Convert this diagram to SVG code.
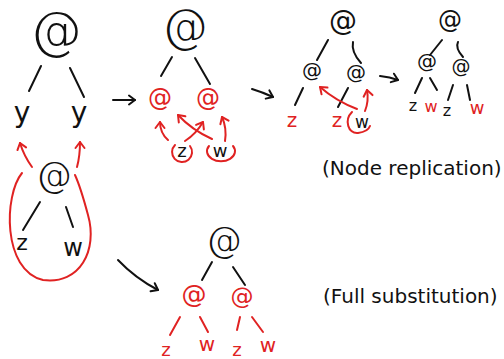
<svg xmlns="http://www.w3.org/2000/svg" width="504" height="359" viewBox="0 0 504 359">
  <defs>
    <style>
      .k { fill: none; stroke: #111; stroke-width: 2; stroke-linecap: round; stroke-linejoin: round; }
      .r { fill: none; stroke: #e02222; stroke-width: 2; stroke-linecap: round; stroke-linejoin: round; }
      .t { font-family: "DejaVu Sans", "Liberation Sans", sans-serif; text-anchor: middle; }
      .big { font-weight: 200; }
      .tk { fill: #111; }
      .tr { fill: #e02222; }
      .cap { font-family: "DejaVu Sans", "Liberation Sans", sans-serif; font-size: 20px; fill: #111; }
    </style>
    <marker id="headK" viewBox="-8 -6 10 12" markerWidth="10" markerHeight="12" refX="0" refY="0" orient="auto" markerUnits="userSpaceOnUse">
      <path d="M-6,-4.5 L0,0 L-6,4.5" fill="none" stroke="#111" stroke-width="2" stroke-linecap="round" stroke-linejoin="round"/>
    </marker>
    <marker id="headR" viewBox="-8 -6 10 12" markerWidth="10" markerHeight="12" refX="0" refY="0" orient="auto" markerUnits="userSpaceOnUse">
      <path d="M-6,-4.5 L0,0 L-6,4.5" fill="none" stroke="#e02222" stroke-width="2" stroke-linecap="round" stroke-linejoin="round"/>
    </marker>
  </defs>

  <!-- tree edges and rewrite arrows -->
  <g id="connectors">
    <!-- left: app of y y -->
    <path class="k" d="M41,66 L29,91"/>
    <path class="k" d="M70,68 L84,97"/>
    <!-- left: app of z w -->
    <path class="k" d="M40,202 L23,230"/>
    <path class="k" d="M66,207 L73,227"/>
    <!-- substitution of the argument into both y -->
    <path class="r" d="M32,167 Q24,156 20,143" marker-end="url(#headR)"/>
    <path class="r" d="M77,167 Q80,156 80,142" marker-end="url(#headR)"/>
    <path class="r" d="M22,173 C4,195 2,270 43,280 C80,285 98,250 88,215 C84,200 80,186 75,175"/>

    <!-- step arrows -->
    <path class="k" d="M113,100 L135,100" marker-end="url(#headK)"/>
    <path class="k" d="M252,89 Q262,92 273,97" marker-end="url(#headK)"/>
    <path class="k" d="M380,76 Q390,77 398,80" marker-end="url(#headK)"/>
    <path class="k" d="M118,260 Q135,278 158,290" marker-end="url(#headK)"/>

    <!-- middle tree -->
    <path class="k" d="M172,57 L161,76"/>
    <path class="k" d="M195,58 L210,84"/>
    <path class="r" d="M175,145 A10,10 0 1 0 190,146"/>
    <path class="r" d="M209,146 A14,10 0 1 0 233,146"/>
    <path class="r" d="M168,140 Q160,133 160,122" marker-end="url(#headR)"/>
    <path class="r" d="M185,141 Q196,134 203,122" marker-end="url(#headR)"/>
    <path class="r" d="M212,139 Q192,130 178,115" marker-end="url(#headR)"/>
    <path class="r" d="M225,141 Q227,128 222,117" marker-end="url(#headR)"/>

    <!-- third tree -->
    <path class="k" d="M328,40 L317,60"/>
    <path class="k" d="M353,42 Q351,52 361,63"/>
    <path class="k" d="M303,88 L295,105"/>
    <path class="k" d="M348,88 L338,107"/>
    <path class="r" d="M352,112 C344,120 348,134 358,133 C365,132 369,129 370,126"/>
    <path class="r" d="M357,109 Q336,101 320,87" marker-end="url(#headR)"/>
    <path class="r" d="M365,111 Q369,101 367,90" marker-end="url(#headR)"/>

    <!-- fourth tree -->
    <path class="k" d="M442,40 L430,55"/>
    <path class="k" d="M458,42 Q455,48 463,57"/>
    <path class="k" d="M422,78 L415,93"/>
    <path class="k" d="M430,78 L437,90"/>
    <path class="k" d="M453,85 L448,100"/>
    <path class="k" d="M467,85 L470,100"/>

    <!-- bottom tree -->
    <path class="k" d="M212,262 L202,280"/>
    <path class="k" d="M233,267 L245,285"/>
    <path class="r" d="M180,317 L170,335"/>
    <path class="r" d="M200,317 L208,332"/>
    <path class="r" d="M240,317 L237,330"/>
    <path class="r" d="M252,317 L263,332"/>
  </g>

  <!-- left tree -->
  <g id="app-top-left"><text class="t big tk" x="56" y="48" font-size="52">@</text></g>
  <g id="var-y-left"><text class="t tk" x="22" y="122" font-size="28">y</text></g>
  <g id="var-y-right"><text class="t tk" x="79" y="122" font-size="28">y</text></g>
  <g id="app-arg"><text class="t big tk" x="54" y="187" font-size="36">@</text></g>
  <g id="arg-z"><text class="t tk" x="22" y="250" font-size="22">z</text></g>
  <g id="arg-w"><text class="t tk" x="73" y="256" font-size="24">w</text></g>

  <!-- middle tree -->
  <g id="mid-root"><text class="t big tk" x="185" y="42" font-size="46">@</text></g>
  <g id="mid-app-left"><text class="t tr" x="160" y="106" font-size="24">@</text></g>
  <g id="mid-app-right"><text class="t tr" x="208" y="106" font-size="24">@</text></g>
  <g id="mid-z"><text class="t tk" x="182" y="157" font-size="18">z</text></g>
  <g id="mid-w"><text class="t tk" x="220" y="157" font-size="18">w</text></g>

  <!-- third tree -->
  <g id="third-root"><text class="t tk" x="343" y="30" font-size="28">@</text></g>
  <g id="third-app-left"><text class="t tk" x="312" y="77" font-size="20">@</text></g>
  <g id="third-app-right"><text class="t tk" x="356" y="79" font-size="20">@</text></g>
  <g id="third-z-left"><text class="t tr" x="292" y="127" font-size="20">z</text></g>
  <g id="third-z-right"><text class="t tr" x="337" y="127" font-size="20">z</text></g>
  <g id="third-w"><text class="t tk" x="362" y="128" font-size="17">w</text></g>

  <!-- fourth tree -->
  <g id="fourth-root"><text class="t tk" x="450" y="28" font-size="24">@</text></g>
  <g id="fourth-app-left"><text class="t tk" x="427" y="68" font-size="20">@</text></g>
  <g id="fourth-app-right"><text class="t tk" x="461" y="73" font-size="19">@</text></g>
  <g id="fourth-z-left"><text class="t tk" x="413" y="111" font-size="16">z</text></g>
  <g id="fourth-w-left"><text class="t tr" x="431" y="112" font-size="16">w</text></g>
  <g id="fourth-z-right"><text class="t tk" x="447" y="116" font-size="16">z</text></g>
  <g id="fourth-w-right"><text class="t tr" x="477" y="114" font-size="18">w</text></g>

  <!-- bottom tree -->
  <g id="full-root"><text class="t big tk" x="224" y="252" font-size="36">@</text></g>
  <g id="full-app-left"><text class="t tr" x="194" y="303" font-size="25">@</text></g>
  <g id="full-app-right"><text class="t tr" x="242" y="304" font-size="23">@</text></g>
  <g id="full-z-left"><text class="t tr" x="166" y="356" font-size="18">z</text></g>
  <g id="full-w-left"><text class="t tr" x="207" y="351" font-size="20">w</text></g>
  <g id="full-z-right"><text class="t tr" x="237" y="356" font-size="18">z</text></g>
  <g id="full-w-right"><text class="t tr" x="268" y="352" font-size="20">w</text></g>

  <!-- captions -->
  <g id="caption-node"><text class="cap" x="322" y="175">(Node replication)</text></g>
  <g id="caption-full"><text class="cap" x="323" y="303">(Full substitution)</text></g>
</svg>
